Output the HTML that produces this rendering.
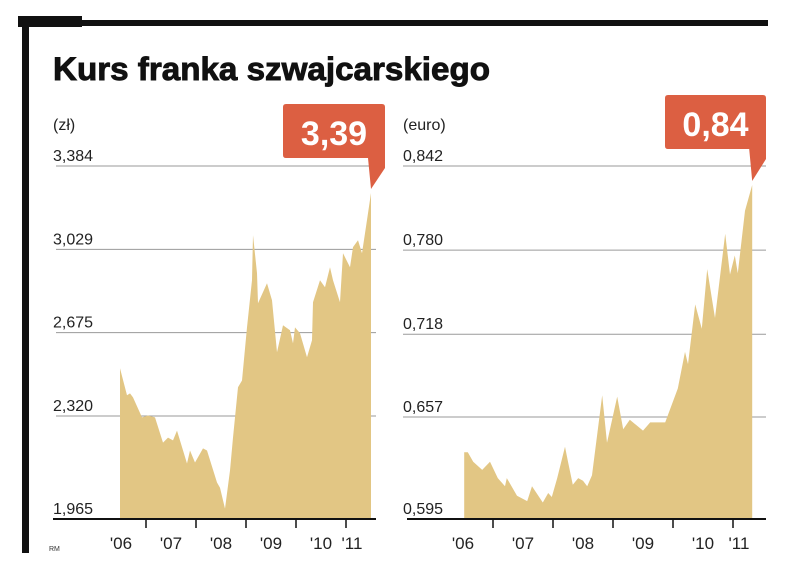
<!DOCTYPE html>
<html><head><meta charset="utf-8"><style>
html,body{margin:0;padding:0;background:#fff;}
svg{display:block;font-family:"Liberation Sans",sans-serif;}
</style></head><body>
<svg id="chart" width="805" height="583" viewBox="0 0 805 583">
  <rect x="18" y="16" width="64" height="11" fill="#111"/>
  <rect x="22" y="16" width="7" height="537" fill="#111"/>
  <rect x="60" y="20" width="708" height="6" fill="#111"/>
  <text x="53" y="80" font-size="32" font-weight="bold" textLength="437" lengthAdjust="spacingAndGlyphs" fill="#111" stroke="#111" stroke-width="0.9">Kurs franka szwajcarskiego</text>
  <text x="53" y="130" font-size="16" fill="#222">(zł)</text>
  <text x="403" y="130" font-size="16" fill="#222">(euro)</text>
  <text x="49" y="551" font-size="7" fill="#333">RM</text>
  <g id="left"></g>
  <g id="right"></g>
</svg>
<script>
// PLN chart data
const plnT = [2006.48,2006.62,2006.68,2006.74,2006.92,2007.04,2007.18,2007.34,2007.44,2007.54,2007.62,2007.82,2007.88,2007.98,2008.14,2008.22,2008.42,2008.48,2008.58,2008.68,2008.74,2008.84,2008.92,2009.02,2009.12,2009.14,2009.22,2009.24,2009.42,2009.52,2009.62,2009.74,2009.88,2009.94,2009.98,2010.08,2010.22,2010.32,2010.34,2010.48,2010.58,2010.68,2010.74,2010.88,2010.94,2011.08,2011.14,2011.24,2011.32,2011.42,2011.50];
const plnV = [2.523,2.408,2.416,2.399,2.314,2.322,2.314,2.207,2.228,2.216,2.258,2.118,2.173,2.122,2.182,2.173,2.037,2.015,1.926,2.088,2.228,2.442,2.471,2.697,2.898,3.090,2.928,2.800,2.885,2.813,2.591,2.706,2.685,2.629,2.697,2.672,2.570,2.642,2.804,2.898,2.868,2.953,2.898,2.804,3.013,2.953,3.039,3.068,3.013,3.154,3.269];
const plnTicks = [3.384,3.029,2.675,2.320,1.965];
const plnTickLabels = ["3,384","3,029","2,675","2,320","1,965"];
const plnLast = "3,39";
// EUR chart data
const eurT = [2006.52,2006.58,2006.67,2006.82,2006.95,2007.08,2007.20,2007.23,2007.40,2007.57,2007.65,2007.83,2007.92,2007.98,2008.07,2008.20,2008.25,2008.33,2008.42,2008.50,2008.57,2008.65,2008.82,2008.90,2009.07,2009.17,2009.28,2009.50,2009.62,2009.87,2010.08,2010.20,2010.25,2010.37,2010.48,2010.57,2010.70,2010.87,2010.95,2011.03,2011.08,2011.20,2011.32];
const eurV = [0.631,0.631,0.624,0.618,0.624,0.612,0.606,0.612,0.599,0.595,0.606,0.594,0.601,0.598,0.612,0.635,0.624,0.607,0.612,0.610,0.606,0.614,0.673,0.638,0.672,0.648,0.655,0.647,0.653,0.653,0.678,0.705,0.696,0.740,0.722,0.766,0.730,0.792,0.762,0.776,0.763,0.809,0.828];
const eurTicks = [0.842,0.780,0.718,0.657,0.595];
const eurTickLabels = ["0,842","0,780","0,718","0,657","0,595"];
const eurLast = "0,84";
const years = ["'06","'07","'08","'09","'10","'11"];

const NS = "http://www.w3.org/2000/svg";
function mk(tag, attrs, parent){const e=document.createElementNS(NS,tag);for(const k in attrs)e.setAttribute(k,attrs[k]);parent.appendChild(e);return e;}

function draw(g, cfg, T, V, ticks, tickLabels, lastLabel){
  const xs = t => cfg.x07 + (t-2007)*cfg.yw;
  const ys = v => cfg.yTop + (ticks[0]-v)/(ticks[0]-ticks[3])*(cfg.y3-cfg.yTop);
  ticks.forEach((tv,i)=>{
    const y = i===ticks.length-1 ? cfg.base : ys(tv);
    if(i<ticks.length-1){
      const l=mk('line',{x1:cfg.gx0,x2:cfg.gx1,y1:y,y2:y,stroke:'#9a9a9a','stroke-width':1},g);
      
      
    }
    const t=mk('text',{x:cfg.lx,y:y-5,'font-size':16,fill:'#222'},g);
    t.textContent=tickLabels[i];
    
    
  });
  let d='M'+xs(T[0])+','+cfg.base;
  T.forEach((t,i)=>{d+=' L'+xs(t).toFixed(1)+','+ys(V[i]).toFixed(1);});
  d+=' L'+xs(T[T.length-1])+','+cfg.base+' Z';
  const a=mk('path',{d:d,fill:'#e2c684'},g);
  
  
  const b=mk('line',{x1:cfg.ax0,x2:cfg.gx1,y1:cfg.base,y2:cfg.base,stroke:'#111','stroke-width':2},g);
  
  
  years.forEach((yl,i)=>{
    if(i>0){
      const tk=mk('line',{x1:xs(2006+i),x2:xs(2006+i),y1:cfg.base,y2:cfg.base+9,stroke:'#111','stroke-width':1.5},g);
      
      
    }
    let cx = xs(2006+i+0.5);
    if(i===5) cx = xs(2011)+6;
    const tx=mk('text',{x:cx,y:cfg.base+30,'font-size':17,fill:'#222','text-anchor':'middle'},g);
    tx.textContent=yl;
    
    
  });
  const px=xs(T[T.length-1]), py=ys(V[V.length-1]);
  const bx=cfg.cx0, bw=cfg.cx1-cfg.cx0, by=cfg.cy, bh=54;
  const c=mk('path',{d:`M${bx+3},${by} H${bx+bw-3} Q${bx+bw},${by} ${bx+bw},${by+3} V${by+bh+10} L${px},${py-4} L${px-3},${by+bh} H${bx+3} Q${bx},${by+bh} ${bx},${by+bh-3} V${by+3} Q${bx},${by} ${bx+3},${by} Z`,fill:'#dc5f42'},g);
  
  
  const ct=mk('text',{x:bx+bw/2,y:by+41,'font-size':34,'font-weight':'bold',fill:'#fff','text-anchor':'middle'},g);
  ct.textContent=lastLabel;
  
  
}
draw(document.getElementById('left'),{x07:146,yw:50,yTop:166,y3:416,base:519,gx0:56,gx1:376,ax0:53,lx:53,cx0:283,cx1:385,cy:104},plnT,plnV,plnTicks,plnTickLabels,plnLast);
draw(document.getElementById('right'),{x07:493,yw:60,yTop:166,y3:417,base:519,gx0:403,gx1:766,ax0:407,lx:403,cx0:665,cx1:766,cy:95},eurT,eurV,eurTicks,eurTickLabels,eurLast);
</script>
</body></html>
